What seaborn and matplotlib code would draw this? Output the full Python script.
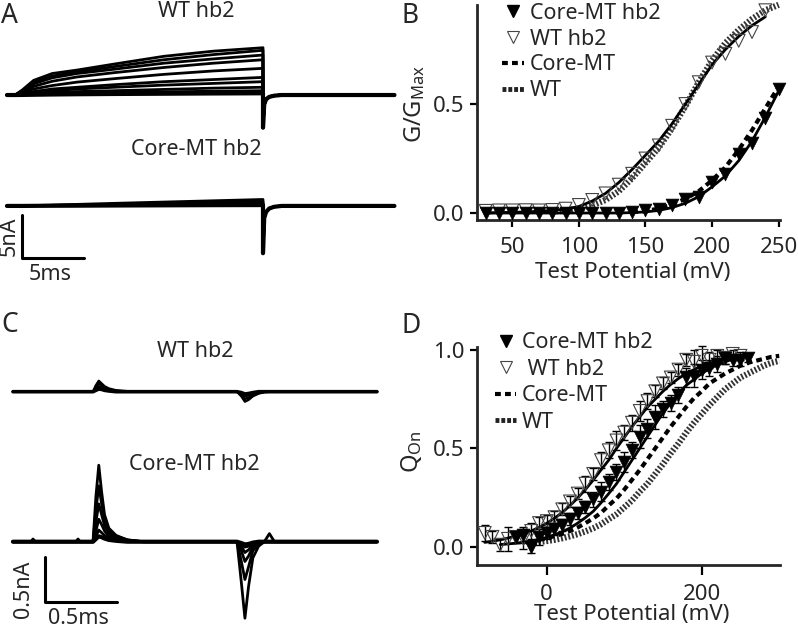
import numpy as np
import matplotlib
matplotlib.use("Agg")
import matplotlib.pyplot as plt
import seaborn as sns
from matplotlib.lines import Line2D

# =========================================
# DATA
# =========================================

# --- panel A: ionic currents (ms, nA) ---
tA_on = [-0.65, 0.0, 0.6, 1.5, 3.0, 5.0, 8.0, 12.0, 16.0, 20.0]
tA_tail = [20.0, 20.1, 20.25, 20.5, 20.9, 21.5, 30.6]

wt_A_traces = [
    [0, 0, 0.6, 1.7, 2.5, 2.9, 3.6, 4.5, 5.1, 5.5],
    [0, 0, 0.5, 1.5, 2.2, 2.7, 3.3, 4.1, 4.7, 5.2],
    [0, 0, 0.4, 1.3, 2.0, 2.5, 3.0, 3.7, 4.2, 4.65],
    [0, 0, 0.3, 1.0, 1.6, 2.1, 2.6, 3.2, 3.7, 4.1],
    [0, 0, 0.2, 0.7, 1.1, 1.5, 1.9, 2.4, 2.8, 3.1],
    [0, 0, 0.1, 0.4, 0.7, 0.9, 1.2, 1.55, 1.8, 2.05],
    [0, 0, 0.08, 0.3, 0.5, 0.7, 0.9, 1.15, 1.35, 1.55],
    [0, 0, 0.05, 0.15, 0.3, 0.4, 0.5, 0.65, 0.8, 0.9],
    [0, 0, 0.02, 0.08, 0.15, 0.22, 0.3, 0.37, 0.44, 0.5],
    [0, 0, 0.01, 0.03, 0.06, 0.09, 0.12, 0.15, 0.18, 0.2],
]
wt_A_tail = [-3.8, -1.1, -0.5, -0.22, -0.08, 0.0, 0.0]

core_A_traces = [
    [0, 0, 0.02, 0.05, 0.1, 0.18, 0.3, 0.45, 0.6, 0.75],
    [0, 0, 0.01, 0.03, 0.07, 0.12, 0.2, 0.3, 0.4, 0.5],
    [0, 0, 0.0, 0.02, 0.04, 0.07, 0.11, 0.17, 0.23, 0.28],
    [0, 0, 0.0, 0.01, 0.02, 0.03, 0.05, 0.07, 0.09, 0.1],
]
core_A_tail = [-5.5, -1.4, -0.7, -0.3, -0.1, 0.0, 0.0]

# --- panel C: gating currents (ms, nA) ---
tC = [-0.556, -0.43, -0.417, -0.40, -0.12, -0.104, -0.09, 0.0, 0.02, 0.04,
      0.06, 0.08, 0.11, 0.16, 0.24, 0.35, 1.0, 1.03, 1.055, 1.08,
      1.11, 1.15, 1.19, 1.225, 1.26, 1.972]

wt_C_traces = [
    [0, 0, 0, 0, 0, 0, 0, 0, 0.07, 0.12, 0.09, 0.06, 0.035, 0.015, 0.005, 0,
     0, -0.05, -0.11, -0.09, -0.05, -0.02, -0.005, 0, 0, 0],
    [0, 0, 0, 0, 0, 0, 0, 0, 0.05, 0.09, 0.07, 0.045, 0.025, 0.01, 0, 0,
     0, -0.035, -0.08, -0.065, -0.035, -0.015, 0, 0, 0, 0],
    [0, 0, 0, 0, 0, 0, 0, 0, 0.03, 0.06, 0.045, 0.03, 0.015, 0.005, 0, 0,
     0, -0.02, -0.05, -0.04, -0.02, -0.01, 0, 0, 0, 0],
    [0, 0, 0, 0, 0, 0, 0, 0, 0.015, 0.03, 0.025, 0.015, 0.008, 0, 0, 0,
     0, -0.01, -0.025, -0.02, -0.01, 0, 0, 0, 0, 0],
]

core_C_traces = [
    [0, 0, 0.03, 0, 0, 0.03, 0, 0, 0.5, 0.85, 0.55, 0.3, 0.15, 0.07, 0.02, 0,
     0, -0.45, -0.85, -0.5, -0.18, -0.05, 0, 0.09, 0, 0],
    [0, 0, 0, 0, 0, 0, 0, 0, 0.35, 0.62, 0.42, 0.24, 0.12, 0.06, 0.02, 0,
     0, -0.22, -0.42, -0.28, -0.1, -0.03, 0, 0, 0, 0],
    [0, 0, 0, 0, 0, 0, 0, 0, 0.22, 0.42, 0.3, 0.18, 0.09, 0.045, 0.015, 0,
     0, -0.1, -0.22, -0.16, -0.06, -0.02, 0, 0, 0, 0],
    [0, 0, 0, 0, 0, 0, 0, 0, 0.12, 0.25, 0.19, 0.12, 0.06, 0.03, 0.01, 0,
     0, -0.05, -0.12, -0.09, -0.04, -0.01, 0, 0, 0, 0],
    [0, 0, 0, 0, 0, 0, 0, 0, 0.06, 0.13, 0.1, 0.07, 0.04, 0.02, 0.005, 0,
     0, -0.03, -0.06, -0.05, -0.02, -0.005, 0, 0, 0, 0],
    [0, 0, 0, 0, 0, 0, 0, 0, 0.03, 0.06, 0.05, 0.035, 0.02, 0.01, 0, 0,
     0, -0.015, -0.03, -0.025, -0.01, 0, 0, 0, 0, 0],
]

# --- panel B: G/Gmax vs test potential ---
core_hb2_B_v = np.arange(30, 251, 10)
core_hb2_B = [0.0, 0.0, 0.0, 0.0, 0.0, 0.0, 0.0, 0.0, 0.0, 0.0, 0.0, 0.003,
              0.015, 0.02, 0.037, 0.065, 0.075, 0.14, 0.18, 0.27, 0.32, 0.435, 0.57]
wt_hb2_B_v = np.arange(30, 241, 10)
wt_hb2_B = [0.01, 0.012, 0.012, 0.013, 0.012, 0.014, 0.02, 0.037, 0.06, 0.09, 0.13,
            0.18, 0.25, 0.31, 0.40, 0.50, 0.60, 0.69, 0.73, 0.79, 0.83, 0.93]

wt_hb2_fitB_v = np.arange(30, 241, 10)
wt_hb2_fitB = [0.0, 0.002, 0.003, 0.005, 0.008, 0.012, 0.018, 0.03, 0.055, 0.09, 0.14,
               0.2, 0.265, 0.33, 0.41, 0.5, 0.59, 0.68, 0.75, 0.81, 0.86, 0.9]
core_hb2_fitB_v = np.arange(30, 251, 10)
core_hb2_fitB = [0.0, 0.0, 0.0, 0.0, 0.0, 0.0, 0.0, 0.0, 0.0, 0.0, 0.0, 0.002,
                 0.005, 0.012, 0.025, 0.045, 0.075, 0.12, 0.17, 0.24, 0.33, 0.44, 0.56]
coremt_fitB_v = np.arange(140, 251, 10)
coremt_fitB = [0.004, 0.01, 0.02, 0.04, 0.065, 0.1, 0.15, 0.21, 0.29, 0.38, 0.48, 0.58]
wt_fitB_v = np.arange(80, 251, 10)
wt_fitB = [0.007, 0.011, 0.02, 0.035, 0.06, 0.1, 0.16, 0.23, 0.3, 0.39, 0.49, 0.6,
           0.7, 0.78, 0.84, 0.89, 0.93, 0.955]

# --- panel D: Q_On vs test potential ---
wt_hb2_D_v = np.arange(-80, 251, 10)
wt_hb2_D = [0.07, 0.05, 0.01, 0.04, 0.05, 0.04, 0.08, 0.12, 0.13, 0.15, 0.19, 0.23,
            0.27, 0.32, 0.37, 0.44, 0.49, 0.54, 0.58, 0.63, 0.69, 0.74, 0.79, 0.83,
            0.86, 0.9, 0.95, 0.94, 0.97, 0.95, 0.97, 0.96, 0.98, 0.97]
wt_hb2_D_err = [0.04, 0.03, 0.03, 0.06, 0.03, 0.05, 0.04, 0.03, 0.03, 0.03, 0.03, 0.03,
                0.03, 0.04, 0.03, 0.04, 0.04, 0.05, 0.04, 0.04, 0.05, 0.04, 0.03, 0.03,
                0.03, 0.03, 0.03, 0.06, 0.05, 0.04, 0.03, 0.03, 0.02, 0.02]
core_hb2_D_v = np.arange(-40, 261, 10)
core_hb2_D = [0.05, 0.06, 0.0, 0.05, 0.07, 0.09, 0.11, 0.14, 0.17, 0.2, 0.24, 0.28,
              0.33, 0.38, 0.43, 0.49, 0.56, 0.6, 0.66, 0.7, 0.73, 0.77, 0.86, 0.87,
              0.9, 0.91, 0.93, 0.96, 0.95, 0.95, 0.96]
core_hb2_D_err = [0.03, 0.04, 0.03, 0.04, 0.03, 0.03, 0.03, 0.03, 0.03, 0.03, 0.04,
                  0.05, 0.04, 0.04, 0.05, 0.04, 0.06, 0.05, 0.06, 0.04, 0.04, 0.04,
                  0.05, 0.06, 0.05, 0.04, 0.04, 0.03, 0.03, 0.03, 0.02]

wt_hb2_fitD_v = np.arange(-80, 251, 10)
wt_hb2_fitD = [0.022, 0.028, 0.035, 0.044, 0.055, 0.065, 0.08, 0.098, 0.119, 0.145,
               0.174, 0.209, 0.248, 0.291, 0.339, 0.39, 0.44, 0.5, 0.555, 0.61, 0.66,
               0.71, 0.75, 0.79, 0.825, 0.855, 0.88, 0.9, 0.92, 0.935, 0.945, 0.955,
               0.965, 0.97]
core_hb2_fitD_v = np.arange(-60, 261, 10)
core_hb2_fitD = [0.011, 0.014, 0.018, 0.023, 0.029, 0.037, 0.047, 0.06, 0.076, 0.095,
                 0.12, 0.148, 0.18, 0.223, 0.27, 0.32, 0.38, 0.44, 0.5, 0.56, 0.62,
                 0.68, 0.73, 0.78, 0.82, 0.85, 0.88, 0.905, 0.924, 0.94, 0.953, 0.96,
                 0.97]
coremt_fitD_v = np.arange(-10, 301, 10)
coremt_fitD = [0.035, 0.043, 0.054, 0.065, 0.08, 0.098, 0.12, 0.144, 0.172, 0.21, 0.245,
               0.29, 0.34, 0.39, 0.445, 0.5, 0.555, 0.61, 0.66, 0.71, 0.755, 0.79, 0.83,
               0.855, 0.88, 0.9, 0.92, 0.935, 0.945, 0.955, 0.965, 0.97]
wt_fitD_v = np.arange(-20, 301, 10)
wt_fitD = [0.02, 0.024, 0.029, 0.035, 0.043, 0.053, 0.064, 0.078, 0.094, 0.114, 0.14,
           0.165, 0.2, 0.235, 0.28, 0.32, 0.37, 0.42, 0.475, 0.525, 0.58, 0.63, 0.675,
           0.72, 0.76, 0.8, 0.83, 0.86, 0.88, 0.9, 0.92, 0.935, 0.945]

legend_B = ["Core-MT hb2", "WT hb2", "Core-MT", "WT"]
legend_D = ["Core-MT hb2", " WT hb2", "Core-MT", "WT"]

# =========================================
# STYLE
# =========================================

sns.set_style("ticks")
plt.rcParams['font.family'] = ['Noto Sans', 'DejaVu Sans']
plt.rcParams['mathtext.fontset'] = 'custom'
plt.rcParams['mathtext.rm'] = 'Noto Sans'
plt.rcParams['mathtext.it'] = 'Noto Sans:italic'

W, H = 798, 629
fig = plt.figure(figsize=(W / 100, H / 100), dpi=100)

COREMT_LS = (0, (1.4, 1.0))
WT_LS = (0, (0.3, 0.3))
TXT = 15.5


def px_axes(x0, y0, x1, y1):
    return fig.add_axes([x0 / W, 1 - y1 / H, (x1 - x0) / W, (y1 - y0) / H])


def px_text(x, y, s, **kw):
    fig.text(x / W, 1 - y / H, s, **kw)


def trace(ax, t, v, lw=2.0):
    sns.lineplot(x=t, y=v, ax=ax, color="black", lw=lw,
                 estimator=None, sort=False)


def style_axes(ax):
    sns.despine(ax=ax)
    for s in ["left", "bottom"]:
        ax.spines[s].set_linewidth(2.0)
    ax.tick_params(length=5, width=1.6, labelsize=16, color="black")
    ax.tick_params(axis="y", pad=4)
    ax.tick_params(axis="x", pad=7)


def legend_handles():
    return [
        Line2D([], [], ls="none", marker="v", ms=9, color="black"),
        Line2D([], [], ls="none", marker="v", ms=9, mfc="none", mec="#444", mew=0.8),
        Line2D([], [], color="black", lw=3, ls=COREMT_LS),
        Line2D([], [], color="#222", lw=3.5, ls=(0, (0.8, 0.4))),
    ]

# =========================================
# A. IONIC CURRENTS
# =========================================

axA = px_axes(0, 0, 400, 300)
axA.set_xlim(-1.21, 31.05)
axA.set_ylim(-23.84, 11.05)
axA.axis("off")

core_offset_A = -12.9
for i, amp in enumerate(wt_A_traces):
    trace(axA, tA_on + tA_tail, amp + wt_A_tail, lw=3.0 if i == len(wt_A_traces) - 1 else 2.0)
for i, amp in enumerate(core_A_traces):
    trace(axA, tA_on + tA_tail, [v + core_offset_A for v in amp + core_A_tail],
          lw=3.0 if i == len(core_A_traces) - 1 else 2.0)

# scale bar 5 ms / 5 nA
axA.plot([0.56, 0.56, 5.56], [-13.95, -18.95, -18.95], color="black", lw=2.2)

px_text(1, 23, "A", fontsize=19, va="baseline", ha="left")
px_text(196, 17, "WT hb2", fontsize=TXT, ha="center", va="baseline")
px_text(196, 155, "Core-MT hb2", fontsize=TXT, ha="center", va="baseline")
px_text(9, 236, "5nA", fontsize=TXT, ha="center", va="center", rotation=90)
px_text(50, 274, "5ms", fontsize=TXT, ha="center", va="center")

# =========================================
# C. GATING CURRENTS
# =========================================

axC = px_axes(0, 300, 400, 629)
axC.set_xlim(-0.646, 2.132)
axC.set_ylim(-2.637, 1.019)
axC.axis("off")

core_offset_C = -1.667
for i, amp in enumerate(wt_C_traces):
    trace(axC, tC, amp, lw=2.6 if i == len(wt_C_traces) - 1 else 1.8)
for i, amp in enumerate(core_C_traces):
    trace(axC, tC, [v + core_offset_C for v in amp],
          lw=3.0 if i == len(core_C_traces) - 1 else 2.0)

# scale bar 0.5 ms / 0.5 nA
axC.plot([-0.333, -0.333, 0.167], [-1.833, -2.333, -2.333], color="black", lw=2.2)

px_text(1, 332, "C", fontsize=19, va="baseline", ha="left")
px_text(195, 357, "WT hb2", fontsize=TXT, ha="center", va="baseline")
px_text(194, 470, "Core-MT hb2", fontsize=TXT, ha="center", va="baseline")
px_text(23, 589, "0.5nA", fontsize=TXT, ha="center", va="center", rotation=90)
px_text(78, 618, "0.5ms", fontsize=TXT, ha="center", va="center")

# =========================================
# B. CONDUCTANCE-VOLTAGE
# =========================================

axB = px_axes(477, 5, 780, 220)

sns.lineplot(x=wt_fitB_v, y=wt_fitB, ax=axB, color="#333", lw=4.5,
             ls=WT_LS, clip_on=False)
sns.lineplot(x=coremt_fitB_v, y=coremt_fitB, ax=axB, color="black", lw=3,
             ls=COREMT_LS, clip_on=False)
sns.lineplot(x=wt_hb2_fitB_v, y=wt_hb2_fitB, ax=axB, color="black", lw=2, clip_on=False)
sns.lineplot(x=core_hb2_fitB_v, y=core_hb2_fitB, ax=axB, color="black", lw=2, clip_on=False)

sns.scatterplot(x=wt_hb2_B_v, y=wt_hb2_B, ax=axB, marker="v", s=85,
                facecolor="none", edgecolor="#444", linewidth=0.8, clip_on=False, zorder=4)
sns.scatterplot(x=core_hb2_B_v, y=core_hb2_B, ax=axB, marker="v", s=85,
                color="black", edgecolor="black", linewidth=0.5, clip_on=False, zorder=5)

axB.set_xlim(23.5, 251)
axB.set_ylim(-0.032, 0.954)
axB.set_xticks([50, 100, 150, 200, 250])
axB.set_yticks([0.0, 0.5])
axB.set_yticklabels(["0.0", "0.5"])
style_axes(axB)
axB.set_xlabel("Test Potential (mV)", fontsize=16)
axB.set_ylabel("G/G$_{\\mathrm{Max}}$", fontsize=17)
axB.xaxis.set_label_coords(0.513, -0.195)
axB.yaxis.set_label_coords(-0.165, 0.54)

axB.legend(legend_handles(), legend_B, loc="upper left",
           bbox_to_anchor=(0.083, 1.01), frameon=False, fontsize=TXT,
           handlelength=1.0, handletextpad=0.3, labelspacing=0.22,
           borderpad=0, borderaxespad=0)

px_text(402, 23, "B", fontsize=19, va="baseline", ha="left")

# =========================================
# D. CHARGE-VOLTAGE
# =========================================

axD = px_axes(477, 347, 780, 565)

sns.lineplot(x=wt_fitD_v, y=wt_fitD, ax=axD, color="#333", lw=4.5,
             ls=WT_LS, clip_on=False)
sns.lineplot(x=coremt_fitD_v, y=coremt_fitD, ax=axD, color="black", lw=3,
             ls=COREMT_LS, clip_on=False)
sns.lineplot(x=wt_hb2_fitD_v, y=wt_hb2_fitD, ax=axD, color="black", lw=2, clip_on=False)
sns.lineplot(x=core_hb2_fitD_v, y=core_hb2_fitD, ax=axD, color="black", lw=2, clip_on=False)

axD.errorbar(wt_hb2_D_v, wt_hb2_D, yerr=wt_hb2_D_err, fmt="none", ecolor="black",
             elinewidth=1.0, capsize=3, capthick=1.0, clip_on=False, zorder=3)
axD.errorbar(core_hb2_D_v, core_hb2_D, yerr=core_hb2_D_err, fmt="none", ecolor="black",
             elinewidth=1.0, capsize=3, capthick=1.0, clip_on=False, zorder=3)
sns.scatterplot(x=wt_hb2_D_v, y=wt_hb2_D, ax=axD, marker="v", s=85,
                facecolor="none", edgecolor="#444", linewidth=0.8, clip_on=False, zorder=4)
sns.scatterplot(x=core_hb2_D_v, y=core_hb2_D, ax=axD, marker="v", s=85,
                color="black", edgecolor="black", linewidth=0.5, clip_on=False, zorder=5)

axD.set_xlim(-90, 301)
axD.set_ylim(-0.093, 1.015)
axD.set_xticks([0, 200])
axD.set_yticks([0.0, 0.5, 1.0])
axD.set_yticklabels(["0.0", "0.5", "1.0"])
style_axes(axD)
axD.tick_params(axis="x", length=7)
axD.set_xlabel("Test Potential (mV)", fontsize=16)
axD.set_ylabel("Q$_{\\mathrm{On}}$", fontsize=17)
axD.xaxis.set_label_coords(0.51, -0.178)
axD.yaxis.set_label_coords(-0.175, 0.52)

axD.legend(legend_handles(), legend_D, loc="upper left",
           bbox_to_anchor=(0.059, 1.067), frameon=False, fontsize=TXT,
           handlelength=1.0, handletextpad=0.25, labelspacing=0.25,
           borderpad=0, borderaxespad=0)

px_text(402, 333, "D", fontsize=19, va="baseline", ha="left")

plt.savefig("out.png", dpi=100)
